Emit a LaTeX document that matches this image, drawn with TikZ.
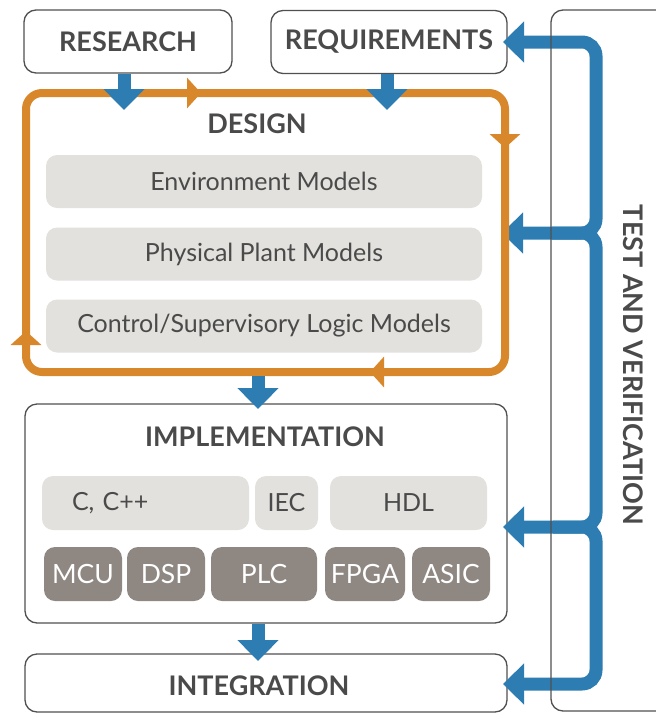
\documentclass[tikz,border=0pt]{standalone}
\usepackage{fontspec}
\setmainfont{Lato}
\usetikzlibrary{arrows.meta}

\definecolor{ink}{HTML}{4A4A4A}
\definecolor{edge}{HTML}{505050}
\definecolor{paper}{HTML}{E2E1DD}
\definecolor{taupe}{HTML}{8F8782}
\definecolor{mblue}{HTML}{2D7DB3}
\definecolor{morange}{HTML}{D8882B}

\newcommand{\headfont}{\fontsize{27}{30}\selectfont\bfseries}
\newcommand{\bodyfont}{\fontsize{25}{28}\selectfont}
\newcommand{\chipfont}{\fontsize{26.5}{30}\selectfont}

\tikzset{
  bigtip/.tip={Triangle[width=40pt,length=21pt]},
  stage/.style={draw=edge, line width=1.3pt, rounded corners=12pt, text=ink, font=\headfont},
  heading/.style={text=ink, font=\headfont},
  model/.style={fill=paper, rounded corners=11pt, text=ink, font=\bodyfont, minimum width=436pt, minimum height=53pt},
  lang/.style={fill=paper, rounded corners=11pt, text=ink, font=\bodyfont, minimum height=54pt, inner xsep=2pt},
  chip/.style={fill=taupe, rounded corners=11pt, text=white, font=\chipfont, minimum height=54pt, inner xsep=1pt},
  flow/.style={draw=mblue, line width=13pt, -bigtip},
  feedback/.style={draw=mblue, line width=13pt, rounded corners=14pt},
  loopline/.style={draw=morange, line width=8pt, rounded corners=16pt},
  loopmark/.style={draw=morange, line width=8pt, -{Triangle[width=30pt,length=14pt]}},
}

\begin{document}
\begin{tikzpicture}[x=1pt,y=-1pt]
  \useasboundingbox (0,0) rectangle (656,713);
  \clip (0,0) rectangle (656,713);

  % stages
  \node[stage, minimum width=208pt, minimum height=63pt] (research) at (128,41.5) {RESEARCH};
  \node[stage, minimum width=236pt, minimum height=63pt] (requirements) at (389,42) {REQUIREMENTS};
  \node[stage, minimum width=482pt, minimum height=219pt] (impl) at (266,513.5) {};
  \node[heading] (impllabel) at (265,437) {IMPLEMENTATION};
  \node[stage, minimum width=482pt, minimum height=58pt] (integ) at (266,683) {};
  \node[heading] (integlabel) at (259,686) {INTEGRATION};

  % languages and targets
  \node[lang, minimum width=207pt, text width=147pt, inner xsep=30pt, align=left] (cpp) at (145.5,503) {C, C++};
  \node[lang, minimum width=63pt] (iec) at (286.5,503) {IEC};
  \node[lang, minimum width=157pt] (hdl) at (408.5,503) {HDL};
  \node[chip, minimum width=78pt] (mcu) at (83,574) {MCU};
  \node[chip, minimum width=78pt] (dsp) at (166,574) {DSP};
  \node[chip, minimum width=106pt] (plc) at (264,574) {PLC};
  \node[chip, minimum width=80pt] (fpga) at (365,574) {FPGA};
  \node[chip, minimum width=78pt] (asic) at (451,574) {ASIC};

  % test and verification bus
  \coordinate (bus) at (596,42);
  \coordinate (toreq) at (503,42);
  \coordinate (todes) at (502,233);
  \coordinate (toimp) at (503,527);
  \coordinate (toint) at (503,684);
  \draw[feedback, bigtip-bigtip] (toreq) -| (bus |- todes) -- (todes);
  \draw[feedback, -bigtip] ([xshift=50pt]todes) -| (bus |- toimp) -- (toimp);
  \draw[feedback, -bigtip] ([xshift=50pt]toimp) -| (bus |- toint) -- (toint);

  \node[draw=edge, line width=1.3pt, rounded corners=12pt, minimum width=140pt, minimum height=701pt] (testver) at (621,360.5) {};
  \node[heading, rotate=-90] (testlabel) at (633,365) {TEST AND VERIFICATION};

  % design loop
  \node[loopline, minimum width=479pt, minimum height=279pt] (design) at (265.5,232.5) {};
  \foreach \tail/\tip in {{180,93}/{201,93}, {505,127}/{505,148}, {391,372}/{370,372}, {26,352}/{26,331}}
    \draw[loopmark] (\tail) -- (\tip);
  \node[heading] (designlabel) at (257,124) {DESIGN};
  \node[model] (envmodels) at (264,181.5) {Environment Models};
  \node[model] (plantmodels) at (264,254) {Physical Plant Models};
  \node[model] (logicmodels) at (264,326) {Control/Supervisory Logic Models};

  % hand-offs between stages
  \coordinate (resin) at (124,110);
  \coordinate (reqin) at (387,110);
  \coordinate (impin) at (258,409);
  \coordinate (intin) at (258,661);
  \draw[flow] (resin |- research.south) -- (resin);
  \draw[flow] (reqin |- requirements.south) -- (reqin);
  \draw[flow] (impin |- design.south) -- (impin);
  \draw[flow] (intin |- impl.south) -- (intin);
\end{tikzpicture}
\end{document}
